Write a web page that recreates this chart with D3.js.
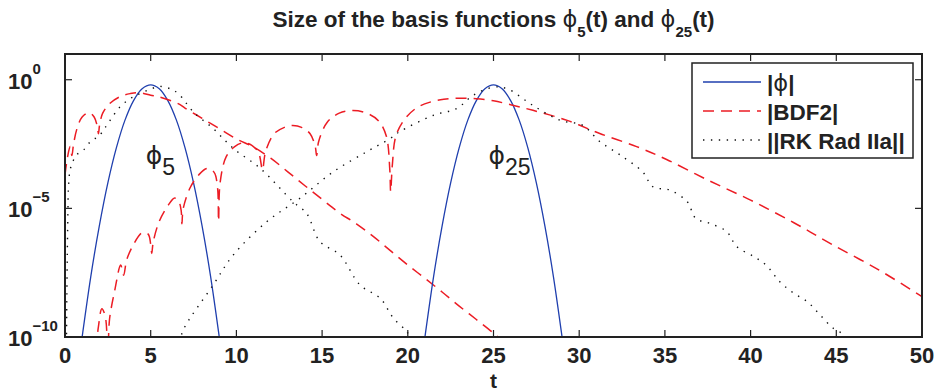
<!DOCTYPE html>
<html>
<head>
<meta charset="utf-8">
<script src="https://cdn.jsdelivr.net/npm/d3@7"></script>
<style>
  body { margin: 0; background: #fff; }
  svg { display: block; font-family: "Liberation Sans", Arial, Helvetica, sans-serif; }
</style>
</head>
<body>
<svg id="chart" width="934" height="392"></svg>
<script>
// ---- data: time samples and log10 of the magnitudes ----
const xTicks = [0, 5, 10, 15, 20, 25, 30, 35, 40, 45, 50];
const yTickExps = [0, -5, -10];

// |phi_5|
const phi5T   = [0.8, 1, 1.5, 2, 2.5, 3, 3.5, 4, 4.5, 5, 5.5, 6, 6.5, 7, 7.5, 8, 8.5, 9, 9.2];
const phi5Log = [-11, -10, -7.67, -5.69, -4.01, -2.64, -1.57, -0.81, -0.35, -0.2, -0.35, -0.81, -1.57, -2.64, -4.01, -5.69, -7.67, -10, -11];

// |phi_25|
const phi25T   = [20.8, 21, 21.5, 22, 22.5, 23, 23.5, 24, 24.5, 25, 25.5, 26, 26.5, 27, 27.5, 28, 28.5, 29, 29.2];
const phi25Log = [-11, -10, -7.67, -5.69, -4.01, -2.64, -1.57, -0.81, -0.35, -0.2, -0.35, -0.81, -1.57, -2.64, -4.01, -5.69, -7.67, -10, -11];

// |BDF2| response started by phi_5
const bdfAT   = [0, 0.15, 0.3, 0.4, 0.5, 0.7, 1.0, 1.4, 1.7, 1.88, 1.95, 2.02, 2.2, 2.6, 3.2, 3.8, 4.3, 5, 5.5, 6.6, 7, 8, 9, 10, 11, 12, 13, 14, 15, 16, 17, 18, 19, 20, 21, 22, 23, 24, 25, 25.5];
const bdfALog = [-3.7, -3.0, -2.6, -2.95, -2.5, -1.9, -1.45, -1.28, -1.45, -1.8, -2.1, -1.75, -1.3, -0.93, -0.66, -0.54, -0.5, -0.6, -0.67, -0.93, -1.1, -1.5, -1.9, -2.3, -2.62, -3.05, -3.58, -4.12, -4.65, -5.17, -5.6, -6.1, -6.65, -7.2, -7.72, -8.25, -8.8, -9.32, -9.85, -10.15];

// |BDF2| response started by phi_25
const bdfBT   = [1.8, 1.95, 2.15, 2.35, 2.5, 2.6, 2.9, 3.25, 3.42, 3.6, 4.0, 4.5, 4.85, 5.0, 5.06, 5.15, 5.5, 6.0, 6.4, 6.65, 6.78, 6.82, 6.9, 7.3, 7.8, 8.3, 8.7, 8.9, 8.96, 9.05, 9.4, 9.9, 10.4, 10.9, 11.3, 11.52, 11.7, 12.2, 12.8, 13.3, 13.8, 14.3, 14.6, 14.68, 14.8, 15.3, 16, 16.8, 17.6, 18.3, 18.75, 18.95, 19.0, 19.1, 19.3, 19.8, 20.5, 21.3, 22.1, 23, 24, 25, 26, 27.3, 29.3, 31.2, 33.35, 35.1, 37.5, 40, 42.5, 44.8, 47.5, 50];
const bdfBLog = [-10.5, -9.6, -8.9, -9.2, -10.5, -9.3, -8.2, -7.2, -7.6, -7.0, -6.4, -5.95, -6.0, -6.4, -6.75, -6.3, -5.5, -4.9, -4.6, -4.75, -5.1, -5.6, -5.0, -4.2, -3.7, -3.45, -3.6, -4.2, -5.5, -4.0, -3.0, -2.6, -2.45, -2.55, -2.85, -3.5, -2.8, -2.1, -1.85, -1.78, -1.85, -2.1, -2.6, -2.95, -2.4, -1.65, -1.3, -1.2, -1.3, -1.6, -2.2, -3.5, -4.35, -3.3, -2.2, -1.55, -1.1, -0.87, -0.76, -0.72, -0.74, -0.82, -0.97, -1.19, -1.58, -2.09, -2.6, -3.1, -3.9, -4.68, -5.55, -6.42, -7.4, -8.43];

// ||RK Rad IIa|| response started by phi_5
const rkAT   = [0.08, 0.1, 0.13, 0.17, 0.2, 0.3, 0.49, 0.7, 1.07, 1.56, 1.94, 2.3, 2.63, 3.2, 3.79, 4.38, 5.0, 5.54, 6.13, 6.61, 7.49, 8.65, 9.82, 11.4, 13.3, 14.1, 14.87, 16.04, 17.2, 18.4, 19.15, 19.93, 20.3];
const rkALog = [-10.5, -9, -7, -5.2, -4.2, -3.5, -3.13, -2.9, -2.74, -2.35, -2.22, -1.9, -1.58, -1.06, -0.74, -0.54, -0.36, -0.26, -0.35, -0.54, -1.25, -1.9, -2.67, -3.45, -4.74, -5.2, -6.29, -6.81, -7.97, -8.5, -9.26, -9.78, -10.2];

// ||RK Rad IIa|| response started by phi_25
const rkBT   = [6.7, 6.9, 8.65, 9.82, 11.77, 13.7, 15.65, 17.6, 18.96, 19.5, 21.5, 22.85, 23.8, 25.0, 25.8, 27.3, 28.9, 30.2, 31.2, 32.4, 33.7, 34.3, 35.3, 36.3, 36.8, 37.6, 38.6, 39.2, 40.2, 40.9, 41.7, 42.5, 43.3, 44.05, 44.8, 45.4, 45.7];
const rkBLog = [-10.2, -9.72, -7.97, -6.81, -5.52, -4.61, -3.58, -2.8, -2.29, -2.03, -1.38, -1.12, -0.61, -0.29, -0.35, -1.0, -1.58, -1.77, -2.4, -2.93, -3.58, -4.16, -4.29, -4.74, -5.39, -5.58, -5.9, -6.49, -6.88, -7.2, -7.85, -8.29, -8.62, -9.14, -9.65, -9.9, -10.2];

const legendLabels = ["|ϕ|", "|BDF2|", "||RK Rad IIa||"];

// ---- layout ----
const plotLeft = 65, plotRight = 922, plotTop = 54, plotBottom = 337;
const blue = "#1f3fae", red = "#ec1c24", ink = "#222";

const svg = d3.select("#chart");
const x = d3.scaleLinear().domain([0, 50]).range([plotLeft, plotRight]);
const y = d3.scaleLog().domain([1e-10, 1e1]).range([plotBottom, plotTop]);

const toPts = (ts, ls) => ts.map((t, i) => [t, Math.pow(10, ls[i])]);

svg.append("defs").append("clipPath").attr("id", "plotClip")
  .append("rect").attr("x", plotLeft).attr("y", plotTop)
  .attr("width", plotRight - plotLeft).attr("height", plotBottom - plotTop);

const line = d3.line()
  .x(d => x(d[0]))
  .y(d => y(d[1]))
  .curve(d3.curveCatmullRom.alpha(0.5));

const plot = svg.append("g").attr("clip-path", "url(#plotClip)");

const styles = {
  phi: { stroke: blue, width: 1.3, dash: null },
  bdf: { stroke: red, width: 1.5, dash: "11,7" },
  rk:  { stroke: "#111", width: 1.4, dash: "1.4,6.5" }
};

const series = [
  { pts: toPts(phi5T, phi5Log), s: styles.phi },
  { pts: toPts(bdfAT, bdfALog), s: styles.bdf },
  { pts: toPts(rkAT, rkALog), s: styles.rk },
  { pts: toPts(phi25T, phi25Log), s: styles.phi },
  { pts: toPts(bdfBT, bdfBLog), s: styles.bdf },
  { pts: toPts(rkBT, rkBLog), s: styles.rk }
];

series.forEach(sr => {
  plot.append("path")
    .attr("d", line(sr.pts))
    .attr("fill", "none")
    .attr("stroke", sr.s.stroke)
    .attr("stroke-width", sr.s.width)
    .attr("stroke-dasharray", sr.s.dash);
});

// ---- axes box and ticks ----
const tickLen = 7;
const axes = svg.append("g");
axes.append("rect")
  .attr("x", plotLeft).attr("y", plotTop)
  .attr("width", plotRight - plotLeft).attr("height", plotBottom - plotTop)
  .attr("fill", "none").attr("stroke", ink).attr("stroke-width", 2);

xTicks.forEach(t => {
  axes.append("line").attr("x1", x(t)).attr("x2", x(t)).attr("y1", plotBottom).attr("y2", plotBottom - tickLen)
    .attr("stroke", ink).attr("stroke-width", 1.2);
  axes.append("line").attr("x1", x(t)).attr("x2", x(t)).attr("y1", plotTop).attr("y2", plotTop + tickLen)
    .attr("stroke", ink).attr("stroke-width", 1.2);
  axes.append("text").attr("x", x(t)).attr("y", 363)
    .attr("text-anchor", "middle").attr("font-size", 22).attr("font-weight", "bold").attr("fill", ink)
    .text(t);
});

yTickExps.forEach(e => {
  const yy = y(Math.pow(10, e));
  axes.append("line").attr("x1", plotLeft).attr("x2", plotLeft + tickLen).attr("y1", yy).attr("y2", yy)
    .attr("stroke", ink).attr("stroke-width", 1.2);
  axes.append("line").attr("x1", plotRight).attr("x2", plotRight - tickLen).attr("y1", yy).attr("y2", yy)
    .attr("stroke", ink).attr("stroke-width", 1.2);
  const lab = axes.append("text").attr("x", 8).attr("y", yy + 9)
    .attr("font-size", 22).attr("font-weight", "bold").attr("fill", ink);
  lab.append("tspan").text("10");
  lab.append("tspan").attr("font-size", 15).attr("dy", -15).text(e === 0 ? "0" : "\u2212" + (-e));
});

// x label
svg.append("text").attr("x", (plotLeft + plotRight) / 2).attr("y", 387.5)
  .attr("text-anchor", "middle").attr("font-size", 21).attr("font-weight", "bold").attr("fill", ink)
  .text("t");

// ---- title ----
const title = svg.append("text").attr("x", (plotLeft + plotRight) / 2).attr("y", 27)
  .attr("text-anchor", "middle").attr("font-size", 22.5).attr("font-weight", "bold").attr("fill", ink);
title.append("tspan").text("Size of the basis functions ");
title.append("tspan").attr("font-family", "DejaVu Sans").attr("font-weight", "normal").text("ϕ");
title.append("tspan").attr("font-size", 15).attr("dy", 10).text("5");
title.append("tspan").attr("dy", -10).text("(t) and ");
title.append("tspan").attr("font-family", "DejaVu Sans").attr("font-weight", "normal").text("ϕ");
title.append("tspan").attr("font-size", 15).attr("dy", 10).text("25");
title.append("tspan").attr("dy", -10).text("(t)");

// ---- in-plot labels ----
function phiLabel(t, sub) {
  const tx = svg.append("text").attr("x", x(t) - 5).attr("y", 164).attr("fill", ink);
  tx.append("tspan").attr("font-family", "DejaVu Sans").attr("font-size", 25).text("ϕ");
  tx.append("tspan").attr("font-size", 23).attr("dy", 11).text(sub);
}
phiLabel(5, "5");
phiLabel(25, "25");

// ---- legend ----
const lg = svg.append("g");
lg.append("rect").attr("x", 692).attr("y", 63).attr("width", 221).attr("height", 95)
  .attr("fill", "#fff").attr("stroke", ink).attr("stroke-width", 1.5);
const legendStyles = [styles.phi, styles.bdf, styles.rk];
legendLabels.forEach((lab, i) => {
  const ry = 82 + i * 29;
  lg.append("line").attr("x1", 703).attr("x2", 761).attr("y1", ry).attr("y2", ry)
    .attr("stroke", legendStyles[i].stroke).attr("stroke-width", legendStyles[i].width)
    .attr("stroke-dasharray", legendStyles[i].dash);
  const tx = lg.append("text").attr("x", 767).attr("y", ry + 8.5)
    .attr("font-size", 22.5).attr("font-weight", "bold").attr("fill", ink);
  if (i === 0) {
    tx.append("tspan").text("|");
    tx.append("tspan").attr("font-family", "DejaVu Sans").attr("font-weight", "normal").text("ϕ");
    tx.append("tspan").text("|");
  } else {
    tx.text(lab);
  }
});
</script>
</body>
</html>
